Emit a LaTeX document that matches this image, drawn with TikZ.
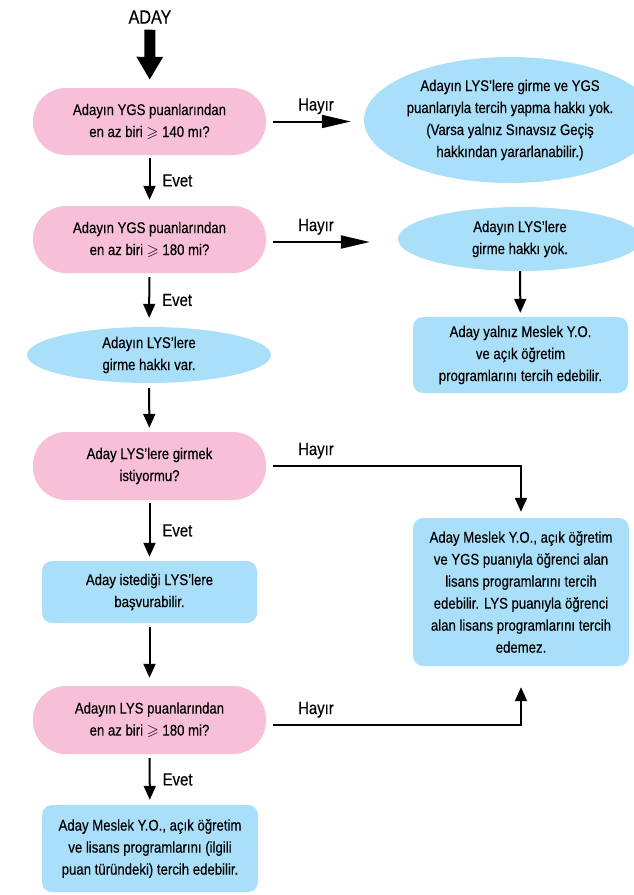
\documentclass[tikz,border=0pt]{standalone}
\usepackage{amssymb}
\usepackage{fontspec}
\setmainfont{Liberation Sans}[FakeStretch=0.85,FakeBold=0.4]
\usetikzlibrary{shapes.geometric,arrows.meta,calc}
\definecolor{qpink}{RGB}{248,192,216}
\definecolor{qblue}{RGB}{170,223,249}
\begin{document}
\begin{tikzpicture}[x=1pt,y=-1pt,
  txt/.style={font=\fontsize{15.5}{22}\selectfont, align=center, inner sep=0pt},
  question/.style={txt, rectangle, rounded corners=33pt, fill=qpink, minimum width=233pt, minimum height=67pt},
  oval/.style={txt, ellipse, fill=qblue},
  result/.style={txt, rectangle, rounded corners=10pt, fill=qblue, minimum width=215pt},
  lbl/.style={font=\fontsize{17.5}{20}\selectfont, inner sep=0pt},
  flow/.style={line width=2pt, -{Triangle[length=14pt,width=12pt]}},
  noflow/.style={line width=2pt, -{Triangle[length=29pt,width=13pt]}},
  big/.style={line width=11pt, -{Triangle[length=23pt,width=25pt]}}
]
\useasboundingbox (0,0) rectangle (634,895);
\clip (0,0) rectangle (634,895);

% nodes
\node[lbl, font=\fontsize{19}{20}\selectfont] (aday) at (150,17) {ADAY};
\node[question] (p1) at (149.5,121.5) {Adayın YGS puanlarından\\en az biri $\geqslant$ 140 mı?};
\node[oval, minimum width=254pt, minimum height=126pt] (e1) at (510,120)
  {Adayın LYS’lere girme ve YGS\\puanlarıyla tercih yapma hakkı yok.\\(Varsa yalnız Sınavsız Geçiş\\hakkından yararlanabilir.)};
\node[question] (p2) at (149.5,239.5) {Adayın YGS puanlarından\\en az biri $\geqslant$ 180 mi?};
\node[oval, minimum width=244pt, minimum height=64pt] (e2) at (520,239) {Adayın LYS’lere\\girme hakkı yok.};
\node[result, minimum height=76pt] (r1) at (520.5,355) {Aday yalnız Meslek Y.O.\\ve açık öğretim\\programlarını tercih edebilir.};
\node[oval, minimum width=244pt, minimum height=56pt] (e3) at (149,355) {Adayın LYS’lere\\girme hakkı var.};
\node[question, minimum height=68pt] (p3) at (149.5,466) {Aday LYS’lere girmek\\istiyormu?};
\node[result, minimum height=62pt] (r2) at (149.5,592) {Aday istediği LYS’lere\\başvurabilir.};
\node[result, minimum width=216pt, minimum height=148pt] (r3) at (521,592)
  {Aday Meslek Y.O., açık öğretim\\ve YGS puanıyla öğrenci alan\\lisans programlarını tercih\\edebilir. LYS puanıyla öğrenci\\alan lisans programlarını tercih\\edemez.};
\node[question, minimum height=68pt] (p4) at (149.5,720) {Adayın LYS puanlarından\\en az biri $\geqslant$ 180 mi?};
\node[result, minimum width=216pt, minimum height=87pt] (r4) at (150,848.5)
  {Aday Meslek Y.O., açık öğretim\\ve lisans programlarını (ilgili\\puan türündeki) tercih edebilir.};

% connectors
\draw[big, shorten <=6pt, shorten >=8pt] (aday) -- (p1);

\draw[flow, shorten <=3pt, shorten >=6pt] (p1) -- node[lbl, anchor=west, xshift=12pt] (ev1) {Evet} (p2);
\draw[flow, shorten <=4pt, shorten >=9pt] (p2) -- node[lbl, anchor=west, xshift=12pt] (ev2) {Evet} (e3);
\draw[flow, shorten <=5pt, shorten >=4pt] (e3) -- (p3);
\draw[flow, shorten <=3pt, shorten >=4pt] (p3) -- node[lbl, anchor=west, xshift=12pt] (ev3) {Evet} (r2);
\draw[flow, shorten <=4pt, shorten >=8pt] (r2) -- (p4);
\draw[flow, shorten <=4pt, shorten >=5pt] (p4) -- node[lbl, anchor=west, xshift=12pt] (ev4) {Evet} (r4);

\draw[flow, shorten >=4pt] (e2) -- (r1);

\draw[noflow] ([xshift=7pt]p1.east) -- node[lbl, pos=0, anchor=base west, xshift=24pt, yshift=11pt] (h1) {Hayır} ([xshift=-13pt]p1.east -| e1.west);
\draw[noflow] ([xshift=7pt,yshift=-2.5pt]p2.east) -- node[lbl, pos=0, anchor=base west, xshift=24pt, yshift=11pt] (h2) {Hayır} ([xshift=-28pt,yshift=-2.5pt]p2.east -| e2.west);
\draw[flow, shorten >=6pt] ([xshift=7pt]p3.east) -- node[lbl, pos=0, anchor=base west, xshift=24pt, yshift=11pt] (h3) {Hayır} (p3.east -| r3.north) -- (r3.north);
\draw[flow, shorten >=21pt] ([xshift=7pt,yshift=-5pt]p4.east) -- node[lbl, pos=0, anchor=base west, xshift=24pt, yshift=11pt] (h4) {Hayır} ([yshift=-5pt]p4.east -| r3.south) -- (r3.south);
\end{tikzpicture}
\end{document}
